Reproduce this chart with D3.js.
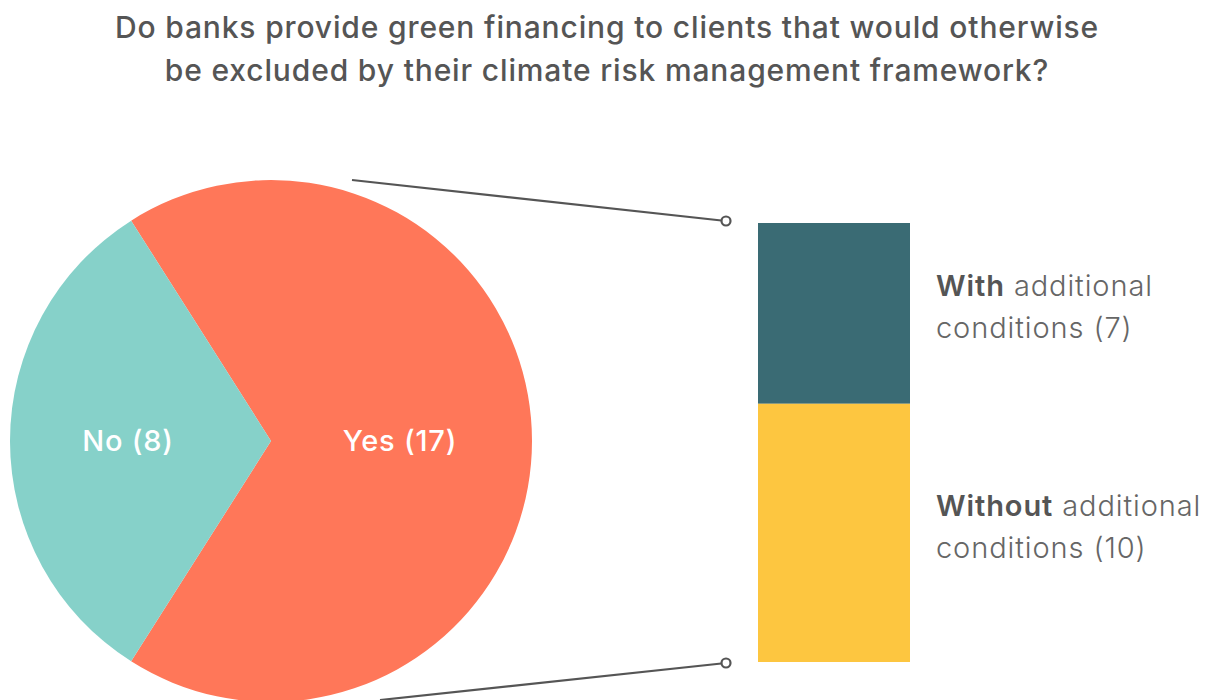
<!DOCTYPE html>
<html><head><meta charset="utf-8">
<script src="https://cdn.jsdelivr.net/npm/d3@7"></script>
<style>body{margin:0;background:#fff}svg{display:block}text{font-family:Inter,"Noto Sans",sans-serif}</style>
</head><body>
<script>
const titleLines = ["Do banks provide green financing to clients that would otherwise","be excluded by their climate risk management framework?"];
const pieCategories = ["Yes","No"];
const pieValues = [17, 8];
const pieColors = ["#FF7759","#86D1C9"];
const barCategories = ["With","Without"];
const barRest = ["additional","additional"];
const barValues = [7, 10];
const barColors = ["#3A6B74","#FDC640"];

const W=1214,H=700;
const svg=d3.select("body").append("svg").attr("width",W).attr("height",H);

svg.selectAll("text.title").data(titleLines).join("text")
  .attr("x",607).attr("y",(d,i)=>38+i*43).attr("text-anchor","middle")
  .attr("font-size",30).attr("font-weight",500).attr("letter-spacing",0.85).attr("fill","#555").text(d=>d);

const cx=271, cy=441, r=261;
const total=d3.sum(pieValues);
const yesSpan=2*Math.PI*pieValues[0]/total;
const pie=d3.pie().sort(null).value(d=>d)
  .startAngle(Math.PI/2 - yesSpan/2).endAngle(Math.PI/2 - yesSpan/2 + 2*Math.PI);
const arcs=pie(pieValues);
const arc=d3.arc().innerRadius(0).outerRadius(r);
const g=svg.append("g").attr("transform",`translate(${cx},${cy})`);
g.selectAll("path").data(arcs).join("path").attr("d",arc).attr("fill",(d,i)=>pieColors[i]);
const labelPos=[[129,0],[-143,0]];
g.selectAll("text").data(arcs).join("text")
  .attr("x",(d,i)=>labelPos[i][0]).attr("y",10).attr("text-anchor","middle")
  .attr("font-size",29).attr("font-weight",500).attr("letter-spacing",0.8).attr("fill","#fff")
  .text((d,i)=>`${pieCategories[i]} (${pieValues[i]})`);

// stacked bar
const bx=758,bw=152,bTop=223,bBot=662;
const y=d3.scaleLinear().domain([0,d3.sum(barValues)]).range([bTop,bBot]);
let acc=0;
const stacks=barValues.map(v=>{const s={y0:acc,y1:acc+v};acc+=v;return s;});
svg.selectAll("rect.bar").data(stacks).join("rect")
  .attr("x",bx).attr("width",bw).attr("y",d=>y(d.y0)).attr("height",d=>y(d.y1)-y(d.y0))
  .attr("fill",(d,i)=>barColors[i]);

// connectors
const conns=[[[352,180],[726,221]],[[380,700],[726,663]]];
svg.selectAll("line.c").data(conns).join("line")
  .attr("x1",d=>d[0][0]).attr("y1",d=>d[0][1]).attr("x2",d=>d[1][0]).attr("y2",d=>d[1][1])
  .attr("stroke","#555").attr("stroke-width",2.2);
svg.selectAll("circle.c").data(conns).join("circle")
  .attr("cx",d=>d[1][0]).attr("cy",d=>d[1][1]).attr("r",4.5)
  .attr("fill","#fff").attr("stroke","#555").attr("stroke-width",2.2);

// labels
const labY=[296,516];
barCategories.forEach((c,i)=>{
  const t=svg.append("text").attr("x",936).attr("y",labY[i]).attr("font-size",29).attr("letter-spacing",0.9).attr("fill","#666");
  t.append("tspan").attr("font-weight",600).attr("fill","#555").text(c);
  t.append("tspan").attr("font-weight",300).text(" "+barRest[i]);
  svg.append("text").attr("x",936).attr("y",labY[i]+42).attr("font-size",29).attr("letter-spacing",0.9).attr("font-weight",300).attr("fill","#666")
    .text(`conditions (${barValues[i]})`);
});
</script>
</body></html>
